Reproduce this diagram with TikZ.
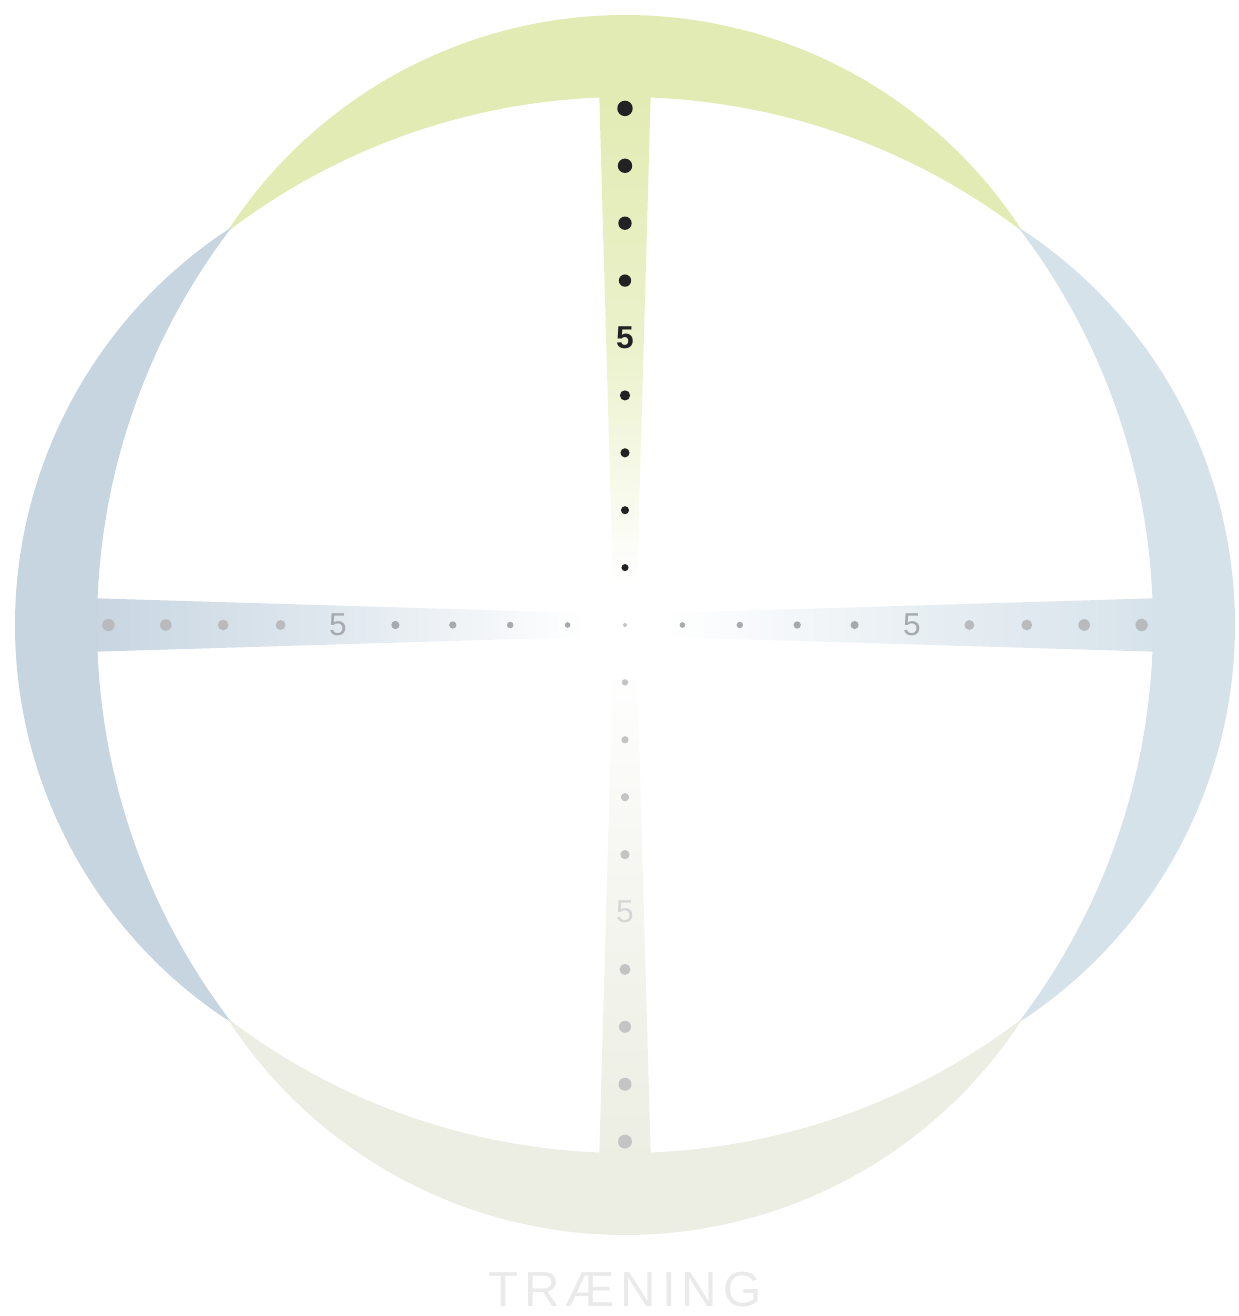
\documentclass[tikz,border=0pt]{standalone}
\usepackage{fontspec}
\setmainfont{Liberation Sans}
\definecolor{topc}{RGB}{226,235,179}
\definecolor{leftc}{RGB}{199,213,225}
\definecolor{rightc}{RGB}{214,226,234}
\definecolor{botc}{RGB}{236,238,227}
\definecolor{inkc}{RGB}{34,34,36}
\definecolor{greyc}{RGB}{166,169,173}
\definecolor{palec}{RGB}{196,196,196}
\definecolor{titlec}{RGB}{234,234,234}
\tikzset{
  dot/.style={circle, inner sep=0pt, draw=none},
  tick/.style={font=\fontsize{9}{9}\selectfont, inner sep=0pt},
  titletext/.style={font=\fontsize{14}{14}\selectfont\addfontfeature{LetterSpace=12}, text=titlec},
}
% one crescent, drawn at the top and turned into place
\newcommand{\lune}[2]{%
  \fill[#2, rotate=#1] (-3.98,3.93)
    arc[start angle=147.2, end angle=32.8, radius=4.735]
    arc[start angle=52.53, end angle=127.47, radius=6.542] -- cycle;}
\newcommand{\dia}[1]{\pgfmathsetmacro{\d}{0.06+0.0105*#1}}

\begin{document}
\begin{tikzpicture}
  \useasboundingbox (-6.25,-6.91) rectangle (6.13,6.25);

  % arms of the cross
  \shade[top color=topc, bottom color=white, middle color=topc!70]
    (-0.26,5.4) -- (0.26,5.4) -- (0.12,0.4) -- (-0.12,0.4) -- cycle;
  \shade[left color=leftc, right color=white, middle color=leftc!55]
    (-5.4,0.27) -- (-5.4,-0.27) -- (-0.4,-0.12) -- (-0.4,0.12) -- cycle;
  \shade[right color=rightc, left color=white, middle color=rightc!55]
    (5.4,0.27) -- (5.4,-0.27) -- (0.4,-0.12) -- (0.4,0.12) -- cycle;
  \shade[bottom color=botc, top color=white, middle color=botc!60]
    (-0.26,-5.4) -- (0.26,-5.4) -- (0.12,-0.4) -- (-0.12,-0.4) -- cycle;

  \lune{0}{topc}
  \lune{90}{leftc}
  \lune{-90}{rightc}
  \lune{180}{botc}

  \foreach \k in {1,2,3,4,6,7,8,9}{
    \dia{\k}
    \ifnum\k>5 \def\sc{greyc!80}\else\def\sc{greyc}\fi
    \node[dot, fill=inkc, minimum size=\d cm] (top\k) at (0,\k*0.574) {};
    \node[dot, fill=\sc, minimum size=0.8*\d cm] (left\k) at (-\k*0.574,0) {};
    \node[dot, fill=\sc, minimum size=0.8*\d cm] (right\k) at (\k*0.574,0) {};
    \node[dot, fill=palec, minimum size=0.9*\d cm] (bot\k) at (0,-\k*0.574) {};
  }
  \node[dot, fill=palec, minimum size=0.04cm] (centre) at (0,0) {};

  \node[tick, text=inkc, font=\fontsize{9}{9}\selectfont\bfseries] (top5) at (0,5*0.574) {5};
  \node[tick, text=greyc] (left5) at (-5*0.574,0) {5};
  \node[tick, text=greyc] (right5) at (5*0.574,0) {5};
  \node[tick, text=palec!70] (bot5) at (0,-5*0.574) {5};

  \node[titletext] (title) at (0,-6.65) {TRÆNING};
\end{tikzpicture}
\end{document}
